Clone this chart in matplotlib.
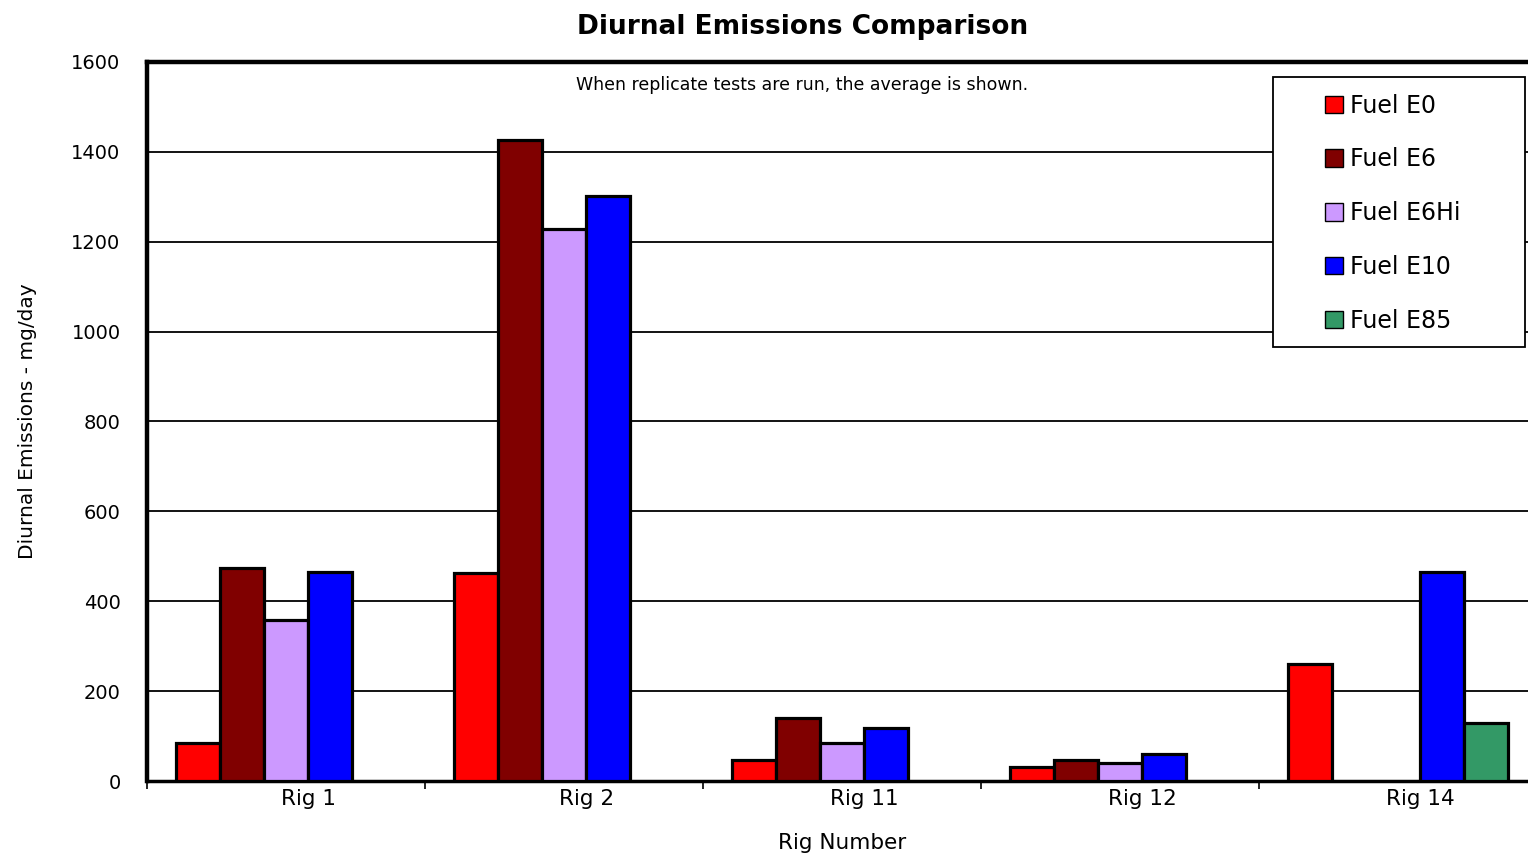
import numpy as np
import matplotlib
matplotlib.use("Agg")
import matplotlib.pyplot as plt
from matplotlib.patches import Rectangle

# Diurnal emissions per rig and fuel (mg/day), averaged over replicates
rigs = ["Rig 1", "Rig 2", "Rig 11", "Rig 12", "Rig 14"]
fuels = ["Fuel E0", "Fuel E6", "Fuel E6Hi", "Fuel E10", "Fuel E85"]
e0 = [84, 463, 46, 32, 260]
e6 = [473, 1427, 140, 46, np.nan]
e6hi = [358, 1228, 85, 40, np.nan]
e10 = [465, 1301, 119, 60, 464]
e85 = [np.nan, np.nan, np.nan, np.nan, 130]
couleurs = ["#FF0000", "#800000", "#CC99FF", "#0000FF", "#339966"]

plt.rcParams['font.family'] = ['DejaVu Sans']

fig = plt.figure(figsize=(15.28, 8.56), dpi=100)
ax = fig.add_axes([0.0962, 0.0876, 0.9097, 0.840])

x = np.arange(len(rigs))
largeur = 0.158
series = [e0, e6, e6hi, e10, e85]
for k, (vals, nom, c) in enumerate(zip(series, fuels, couleurs)):
    ax.bar(x + (k - 2) * largeur, vals, largeur, color=c, edgecolor="black",
           linewidth=2.3, label=nom, zorder=3)

ax.set_xlim(-0.5, 4.5)
ax.set_ylim(0, 1600)
ax.set_yticks(np.arange(0, 1601, 200))
ax.yaxis.grid(True, color="black", linewidth=1.3, zorder=0)
ax.tick_params(axis="y", length=0, pad=19, labelsize=14)

# tick marks between groups, labels under each group
ax.set_xticks(np.arange(-0.5, 4.6, 1.0))
ax.set_xticklabels([])
ax.set_xticks(x + 0.08, minor=True)
ax.set_xticklabels(rigs, minor=True, fontsize=15.5)
ax.tick_params(axis="x", which="major", length=6, width=1.2, direction="out")
ax.tick_params(axis="x", which="minor", length=0, pad=6)

for s in ["left", "top", "right"]:
    ax.spines[s].set_linewidth(3.2)
ax.spines["bottom"].set_linewidth(2.5)

ax.set_ylabel("Diurnal Emissions - mg/day", fontsize=14.5, labelpad=25)
ax.set_xlabel("Rig Number", fontsize=15.5, labelpad=17)

fig.text(0.525, 0.968, "Diurnal Emissions Comparison", ha="center", va="center",
         fontsize=19, fontweight="bold")
ax.text(0.471, 0.968, "When replicate tests are run, the average is shown.",
        transform=ax.transAxes, ha="center", va="center", fontsize=12.5)

# legend frame drawn separately so the swatches can sit well inside it
ax.add_patch(Rectangle((0.810, 0.604), 0.181, 0.375, transform=ax.transAxes,
                       facecolor="white", edgecolor="black", linewidth=1.3,
                       zorder=4))
leg = ax.legend(loc="upper left", bbox_to_anchor=(0.8475, 0.956), frameon=False,
                fontsize=17, handlelength=0.75, handleheight=0.75,
                handletextpad=0.3, labelspacing=1.26, borderpad=0,
                borderaxespad=0)
for h in leg.legend_handles:
    h.set_linewidth(1.0)
leg.set_zorder(5)

fig.savefig("out.png", dpi=100, facecolor="white")
